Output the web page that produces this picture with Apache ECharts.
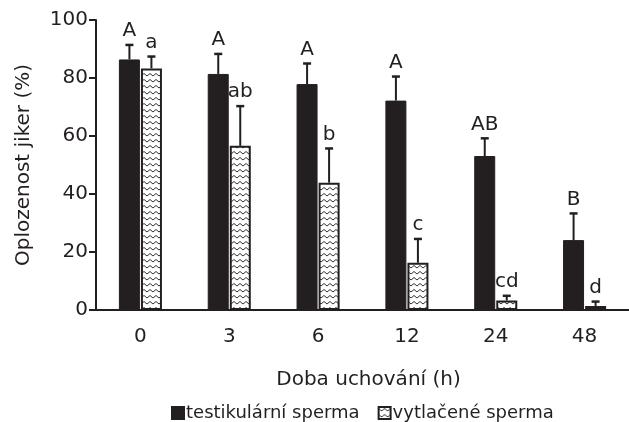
<!DOCTYPE html>
<html>
<head>
<meta charset="utf-8">
<script src="https://cdn.jsdelivr.net/npm/echarts@6/dist/echarts.min.js"></script>
<style>
html,body{margin:0;padding:0;background:#fff;}
#c{width:629px;height:422px;}
</style>
</head>
<body>
<div id="c"></div>
<script>
const categories = ['0', '3', '6', '12', '24', '48'];
const testMeans = [86.4, 81.4, 77.9, 72.2, 53.1, 24.1];
const testSD = [5.0, 6.9, 7.1, 8.3, 6.1, 9.2];
const testLetters = ['A', 'A', 'A', 'A', 'AB', 'B'];
const strMeans = [83.3, 56.6, 43.9, 16.3, 3.3, 1.4];
const strSD = [4.1, 13.7, 11.8, 8.2, 1.6, 1.5];
const strLetters = ['a', 'ab', 'b', 'c', 'cd', 'd'];
const yTicks = [0, 20, 40, 60, 80, 100];
const seriesNames = ['testikulární sperma', 'vytlačené sperma'];
const xTitle = 'Doba uchování (h)';
const yTitle = 'Oplozenost jiker (%)';

const INK = '#231f20';
const FONT = 'DejaVu Sans';

// zigzag pattern tile
const tile = document.createElement('canvas');
tile.width = 6; tile.height = 6;
const g = tile.getContext('2d');
g.fillStyle = '#fff'; g.fillRect(0, 0, 6, 6);
g.strokeStyle = '#333'; g.lineWidth = 1;
g.beginPath();
g.moveTo(0, 1.5); g.lineTo(3, 4); g.lineTo(6, 1.5);
g.stroke();

const BW = 21, OFF = 11;

function errSeries(means, sds, letters, off) {
  return {
    type: 'custom',
    silent: true,
    z: 5,
    data: means.map((m, i) => [i, m, m + sds[i]]),
    renderItem(params, api) {
      const x = api.coord([api.value(0), 0])[0] + off;
      const y0 = api.coord([api.value(0), api.value(1)])[1];
      const y1 = api.coord([api.value(0), api.value(2)])[1];
      const label = letters[params.dataIndex];
      return {
        type: 'group',
        children: [
          { type: 'line', shape: { x1: x, y1: y0, x2: x, y2: y1 }, style: { stroke: INK, lineWidth: 2 } },
          { type: 'line', shape: { x1: x - 4, y1: y1, x2: x + 4, y2: y1 }, style: { stroke: INK, lineWidth: 2.5 } },
          { type: 'text', style: { x: x, y: y1 - 4, text: label, align: 'center', verticalAlign: 'bottom', fill: INK, font: '20px "' + FONT + '"' } }
        ]
      };
    }
  };
}

const chart = echarts.init(document.getElementById('c'), null, { renderer: 'canvas' });
chart.setOption({
  animation: false,
  backgroundColor: '#fff',
  textStyle: { fontFamily: FONT, color: INK },
  grid: { left: 96, top: 20, width: 538, height: 290, containLabel: false },
  legend: {
    left: 166, top: 399,
    icon: 'rect',
    itemWidth: 12, itemHeight: 12, itemGap: 18,
    textStyle: { fontSize: 18, color: INK, fontFamily: FONT, padding: [0, 0, 0, -3] },
    data: seriesNames
  },
  xAxis: {
    type: 'category',
    data: categories,
    axisLine: { lineStyle: { color: INK, width: 2 } },
    axisTick: { show: false },
    axisLabel: { color: INK, fontSize: 20, margin: 17, fontFamily: FONT },
    name: xTitle,
    nameLocation: 'middle',
    nameGap: 60,
    nameTextStyle: { fontSize: 20, color: INK, fontFamily: FONT, padding: [0, 0, 0, 12] }
  },
  yAxis: {
    type: 'value',
    min: 0, max: 100, interval: 20,
    axisLine: { show: true, lineStyle: { color: INK, width: 2 } },
    axisTick: { show: true, length: 7, lineStyle: { color: INK, width: 2 } },
    splitLine: { show: false },
    axisLabel: { color: INK, fontSize: 20, margin: 8, fontFamily: FONT,
      formatter: v => yTicks.includes(v) ? String(v) : '' },
    name: yTitle,
    nameLocation: 'middle',
    nameGap: 62,
    nameRotate: 90,
    nameTextStyle: { fontSize: 20, color: INK, fontFamily: FONT }
  },
  series: [
    {
      name: seriesNames[0], type: 'bar', data: testMeans,
      barWidth: BW, barGap: '5%',
      itemStyle: { color: INK, borderColor: INK, borderWidth: 1 }
    },
    {
      name: seriesNames[1], type: 'bar', data: strMeans,
      barWidth: BW, barGap: '5%',
      itemStyle: { color: { image: tile, repeat: 'repeat' }, borderColor: INK, borderWidth: 2 }
    },
    errSeries(testMeans, testSD, testLetters, -OFF),
    errSeries(strMeans, strSD, strLetters, OFF)
  ]
});
</script>
</body>
</html>
